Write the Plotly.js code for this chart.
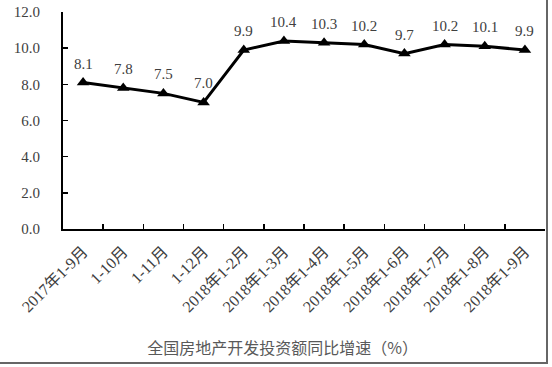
<!DOCTYPE html>
<html>
<head>
<meta charset="utf-8">
<script src="https://cdn.plot.ly/plotly-3.0.1.min.js"></script>
<style>
html,body{margin:0;padding:0;background:#fff;}
#wrap{position:relative;width:552px;height:367px;}
#chart{width:552px;height:367px;}
#frame{position:absolute;left:0;top:0;width:546px;height:362px;border-right:2px solid #666;border-bottom:2px solid #666;pointer-events:none;}
</style>
</head>
<body>
<div id="wrap"><div id="chart"></div><div id="frame"></div></div>
<script>
const categories = ["2017年1-9月","1-10月","1-11月","1-12月","2018年1-2月","2018年1-3月","2018年1-4月","2018年1-5月","2018年1-6月","2018年1-7月","2018年1-8月","2018年1-9月"];
const growth = [8.1, 7.8, 7.5, 7.0, 9.9, 10.4, 10.3, 10.2, 9.7, 10.2, 10.1, 9.9];
const yTicks = [0, 2, 4, 6, 8, 10, 12];
const yTickText = ["0.0","2.0","4.0","6.0","8.0","10.0","12.0"];
const chartTitle = "全国房地产开发投资额同比增速（%）";

const fontFam = "'Liberation Serif', 'Noto Sans CJK SC', serif";

const trace = {
  type: "scatter",
  mode: "lines+markers",
  x: categories,
  y: growth,
  line: {color: "#000", width: 3},
  marker: {symbol: "triangle-up", size: 11, color: "#000"},
  hoverinfo: "skip"
};

const annotations = categories.map((c, i) => ({
  x: c, y: growth[i], xref: "x", yref: "y",
  text: growth[i].toFixed(1), showarrow: false,
  yshift: 19, font: {family: fontFam, size: 15, color: "#404040"}
}));

const layout = {
  width: 552, height: 367,
  margin: {l: 63, r: 7, t: 12, b: 138},
  paper_bgcolor: "#fff", plot_bgcolor: "#fff",
  showlegend: false,
  title: {
    text: chartTitle, x: 0.512, xanchor: "center", y: 0.052, yanchor: "middle",
    font: {family: "'Noto Sans CJK SC', sans-serif", size: 16, color: "#595959"}
  },
  xaxis: {
    type: "category",
    range: [-0.5, 11.5],
    showgrid: false, zeroline: false,
    showline: true, linecolor: "#000", linewidth: 2,
    ticks: "inside", ticklen: 5, tickwidth: 1.5, tickcolor: "#000",
    tickson: "boundaries",
    tickangle: -45,
    ticklabelstandoff: 5,
    tickfont: {family: fontFam, size: 16, color: "#404040"}
  },
  yaxis: {
    range: [0, 12],
    tickvals: yTicks, ticktext: yTickText,
    showgrid: false, zeroline: false,
    showline: true, linecolor: "#000", linewidth: 2,
    ticks: "inside", ticklen: 5, tickwidth: 1.5, tickcolor: "#000",
    ticklabelstandoff: 18,
    tickfont: {family: fontFam, size: 15, color: "#404040"}
  },
  annotations: annotations
};

Plotly.newPlot("chart", [trace], layout, {staticPlot: true, displayModeBar: false});
</script>
</body>
</html>
